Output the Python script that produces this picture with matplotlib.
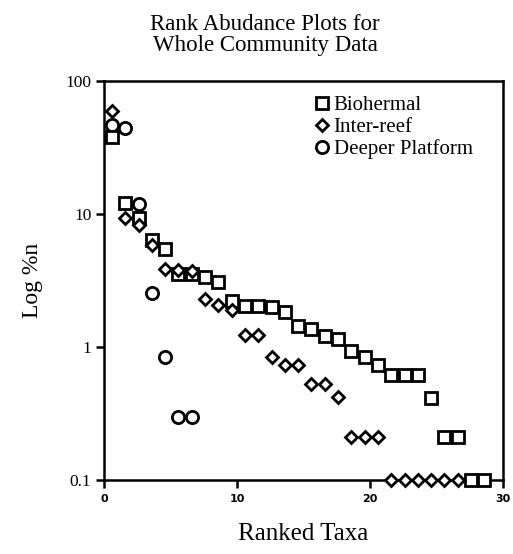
import matplotlib
matplotlib.use("Agg")
import matplotlib.pyplot as plt

# rank positions and % abundance
bio_x = [0.6, 1.6, 2.6, 3.6, 4.6, 5.6, 6.6, 7.6, 8.6, 9.6, 10.6, 11.6, 12.6, 13.6, 14.6,
         15.6, 16.6, 17.6, 18.6, 19.6, 20.6, 21.6, 22.6, 23.6, 24.6, 25.6, 26.6, 27.6, 28.6]
bio_y = [38, 12.0, 9.3, 6.4, 5.45, 3.55, 3.55, 3.34, 3.1, 2.23, 2.05, 2.05, 1.99, 1.84, 1.44,
         1.36, 1.22, 1.14, 0.93, 0.84, 0.73, 0.615, 0.615, 0.615, 0.416, 0.212, 0.212, 0.1, 0.1]

inter_x = [0.6, 1.6, 2.6, 3.6, 4.6, 5.6, 6.6, 7.6, 8.6, 9.6, 10.6, 11.6, 12.6, 13.6,
           14.6, 15.6, 16.6, 17.6, 18.6, 19.6, 20.6, 21.6, 22.6, 23.6, 24.6, 25.6, 26.6]
inter_y = [60, 9.3, 8.3, 5.85, 3.86, 3.8, 3.7, 2.3, 2.07, 1.9, 1.23, 1.23, 0.845, 0.733,
           0.733, 0.527, 0.527, 0.42, 0.212, 0.212, 0.212, 0.1, 0.1, 0.1, 0.1, 0.1, 0.1]

deep_x = [0.6, 1.6, 2.6, 3.6, 4.6, 5.6, 6.6]
deep_y = [47, 44, 11.9, 2.54, 0.835, 0.30, 0.30]

SERIF = "Liberation Serif"
MKW = dict(linestyle="none", markerfacecolor="white", markeredgecolor="black",
           markeredgewidth=2.0, clip_on=False)

fig = plt.figure(figsize=(5.13, 5.54), dpi=100)
ax = fig.add_axes([104 / 513, 1 - 480 / 554, 399 / 513, 399 / 554])

ax.plot(bio_x, bio_y, marker="s", markersize=9.2, label="Biohermal", zorder=3, **MKW)
ax.plot(inter_x, inter_y, marker="D", markersize=6.6, label="Inter-reef", zorder=4, **MKW)
ax.plot(deep_x, deep_y, marker="o", markersize=8.8, label="Deeper Platform", zorder=2, **MKW)

ax.set_yscale("log")
ax.set_ylim(0.1, 100)
ax.set_xlim(0, 30)
ax.set_xticks([0, 10, 20, 30])
ax.set_xticklabels(["0", "10", "20", "30"], fontfamily="DejaVu Sans",
                   fontweight="bold", fontsize=8)
ax.set_yticks([0.1, 1, 10, 100])
ax.set_yticklabels(["0.1", "1", "10", "100"], fontfamily=SERIF, fontsize=12.5)
ax.yaxis.set_minor_locator(matplotlib.ticker.NullLocator())
ax.tick_params(direction="out", length=6, width=1.8, top=False, right=False)
ax.tick_params(axis="x", pad=4)
ax.tick_params(axis="y", pad=3)
for s in ax.spines.values():
    s.set_linewidth(1.8)

ax.set_xlabel("Ranked Taxa", fontfamily=SERIF, fontsize=18, labelpad=14)
ax.set_ylabel("Log %n", fontfamily=SERIF, fontsize=17, labelpad=16)

fig.text(0.517, 0.975, "Rank Abudance Plots for\nWhole Community Data",
         ha="center", va="top", fontfamily=SERIF, fontsize=16.5, linespacing=1.0)

ax.legend(loc="upper left", bbox_to_anchor=(0.51, 0.985), frameon=False,
          prop={"family": SERIF, "size": 15}, handlelength=0.6, handletextpad=0.25,
          labelspacing=0.12, borderaxespad=0)

fig.savefig("out.png", dpi=100)
